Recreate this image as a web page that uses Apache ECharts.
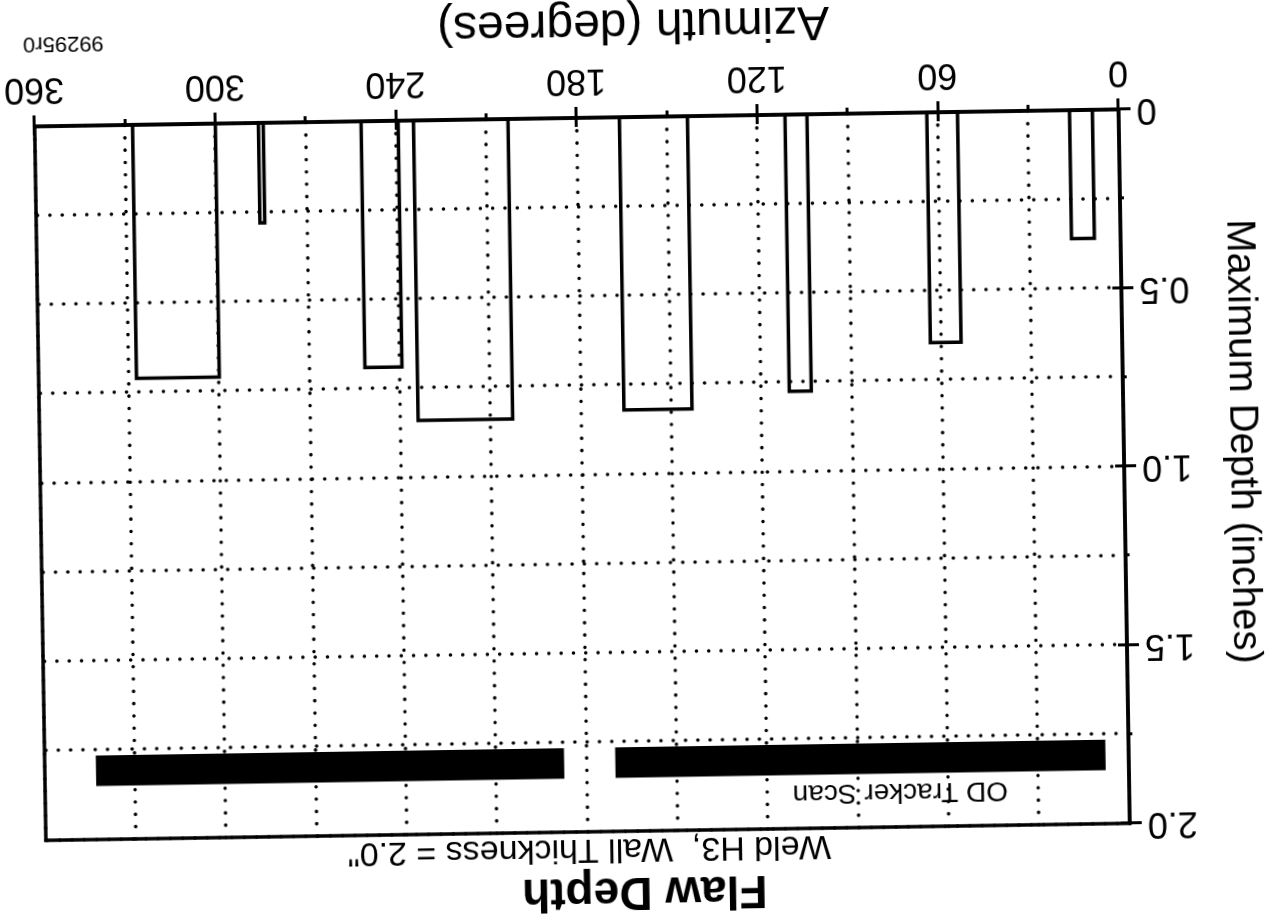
<!DOCTYPE html>
<html>
<head>
<meta charset="utf-8">
<title>Flaw Depth</title>
<script src="https://cdn.jsdelivr.net/npm/echarts@6/dist/echarts.min.js"></script>
<style>
  html, body { margin: 0; padding: 0; background: #fff; }
  /* the reference scan is upside down and a little skewed */
  #chart { width: 1276px; height: 921px; transform: rotate(179.1deg); transform-origin: 50% 50%; }
</style>
</head>
<body>
<div id="chart"></div>
<script>
// flaws: azimuth range (degrees) and maximum depth (inches)
const flawStart = [8.7, 53.5, 103.5, 143.2, 202.8, 239.3, 284.1, 300.0];
const flawEnd = [16.3, 63.7, 110.8, 165.8, 234.2, 251.6, 285.7, 327.5];
const flawDepth = [0.36, 0.645, 0.775, 0.82, 0.84, 0.69, 0.28, 0.71];

// OD tracker scan coverage
const scanStart = [7.7, 187.5];
const scanEnd = [170.5, 343.0];
const scanDepthFrom = [1.765, 1.765];
const scanDepthTo = [1.85, 1.85];
const scanLabel = ["OD Tracker Scan"];
const scanLabelAt = [[76, 1.9]];

const depthLabels = { 0: "0", 0.5: "0.5", 1: "1.0", 1.5: "1.5", 2: "2.0" };

const FONT = "Liberation Sans, Arial, Helvetica, sans-serif";
const dotted = { color: "#000", width: 3.5, type: [0.1, 12.2], cap: "round" };

const chart = echarts.init(document.getElementById("chart"));

const option = {
  animation: false,
  backgroundColor: "#fff",
  textStyle: { fontFamily: FONT, color: "#000" },
  title: [
    {
      text: "Flaw Depth",
      left: "center",
      top: 2,
      textStyle: { fontSize: 46, fontWeight: "bold", color: "#000", fontFamily: FONT },
    },
    {
      text: 'Weld H3,  Wall Thickness = 2.0"',
      left: 446,
      top: 51,
      textStyle: { fontSize: 34, fontWeight: "normal", color: "#000", fontFamily: FONT },
    },
  ],
  grid: {
    left: 152,
    right: 40,
    top: 90,
    bottom: 117,
    show: true,
    borderColor: "#000",
    borderWidth: 3.5,
  },
  xAxis: [
    {
      type: "value",
      min: 0,
      max: 360,
      interval: 60,
      axisLine: { show: true, lineStyle: { color: "#000", width: 3.5 } },
      axisTick: { show: true, length: 11, lineStyle: { color: "#000", width: 3 } },
      minorTick: { show: true, splitNumber: 2, length: 6, lineStyle: { color: "#000", width: 3 } },
      splitLine: { show: true, lineStyle: dotted },
      minorSplitLine: { show: true, lineStyle: dotted },
      axisLabel: { fontSize: 36, color: "#000", margin: 20, fontFamily: FONT },
    },
    {
      type: "value",
      min: 0,
      max: 360,
      interval: 60,
      position: "bottom",
      axisLine: { show: false },
      axisTick: { show: true, inside: true, length: 9, lineStyle: { color: "#000", width: 3 } },
      axisLabel: { show: false },
      splitLine: { show: false },
    },
  ],
  yAxis: [
    {
      type: "value",
      min: 0,
      max: 2,
      interval: 0.5,
      axisLine: { show: true, lineStyle: { color: "#000", width: 3.5 } },
      axisTick: { show: true, length: 12, lineStyle: { color: "#000", width: 3 } },
      minorTick: { show: true, splitNumber: 2, length: 4, lineStyle: { color: "#000", width: 3 } },
      splitLine: { show: true, lineStyle: dotted },
      minorSplitLine: { show: true, lineStyle: dotted },
      axisLabel: {
        fontSize: 36,
        color: "#000",
        margin: 18,
        fontFamily: FONT,
        formatter: (v) => depthLabels[v] || "",
      },
    },
    {
      type: "value",
      min: 0,
      max: 2,
      interval: 0.5,
      position: "left",
      axisLine: { show: false },
      axisTick: { show: true, inside: true, length: 9, lineStyle: { color: "#000", width: 3 } },
      axisLabel: { show: false },
      splitLine: { show: false },
    },
  ],
  graphic: [
    {
      type: "text",
      x: 636,
      y: 898,
      style: {
        text: "Azimuth (degrees)",
        fontSize: 48,
        fill: "#000",
        fontFamily: FONT,
        align: "center",
        verticalAlign: "middle",
      },
    },
    {
      type: "text",
      x: 34,
      y: 470,
      rotation: Math.PI / 2,
      style: {
        text: "Maximum Depth (inches)",
        fontSize: 40,
        fill: "#000",
        fontFamily: FONT,
        align: "center",
        verticalAlign: "middle",
      },
    },
    {
      type: "text",
      x: 1206,
      y: 887,
      style: {
        text: "99295r0",
        fontSize: 22,
        fill: "#000",
        fontFamily: FONT,
        align: "center",
        verticalAlign: "middle",
      },
    },
  ],
  series: [
    {
      name: "flaws",
      type: "custom",
      data: flawStart.map((s, i) => [s, flawEnd[i], flawDepth[i]]),
      encode: { x: [0, 1], y: 2 },
      renderItem: (params, api) => {
        const p0 = api.coord([api.value(0), 0]);
        const p1 = api.coord([api.value(1), api.value(2)]);
        return {
          type: "rect",
          shape: { x: p0[0], y: p1[1], width: p1[0] - p0[0], height: p0[1] - p1[1] },
          style: { fill: "none", stroke: "#000", lineWidth: 3.5 },
        };
      },
      z: 5,
    },
    {
      name: "scan",
      type: "custom",
      data: scanStart.map((s, i) => [s, scanEnd[i], scanDepthFrom[i], scanDepthTo[i]]),
      encode: { x: [0, 1], y: [2, 3] },
      renderItem: (params, api) => {
        const p0 = api.coord([api.value(0), api.value(2)]);
        const p1 = api.coord([api.value(1), api.value(3)]);
        return {
          type: "rect",
          shape: { x: p0[0], y: p1[1], width: p1[0] - p0[0], height: p0[1] - p1[1] },
          style: { fill: "#000" },
        };
      },
      z: 5,
    },
    {
      name: "scanLabel",
      type: "custom",
      data: scanLabelAt.map((p, i) => [p[0], p[1], scanLabel[i]]),
      encode: { x: 0, y: 1 },
      renderItem: (params, api) => {
        const p = api.coord([api.value(0), api.value(1)]);
        return {
          type: "text",
          x: p[0],
          y: p[1],
          style: {
            text: scanLabel[params.dataIndex],
            fontSize: 28,
            fontFamily: FONT,
            fill: "#000",
            align: "center",
            verticalAlign: "middle",
          },
        };
      },
      z: 6,
    },
  ],
};

chart.setOption(option);
</script>
</body>
</html>
